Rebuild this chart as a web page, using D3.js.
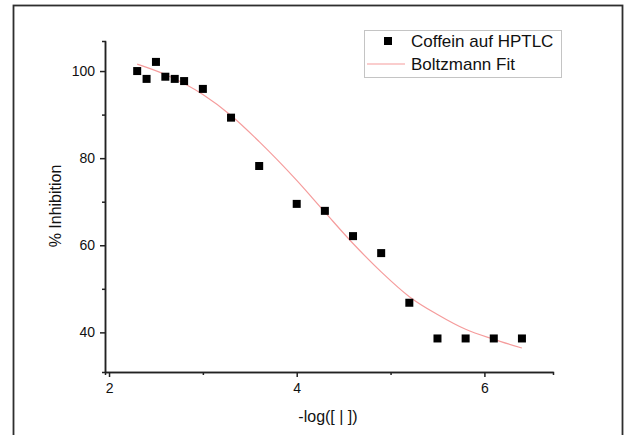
<!DOCTYPE html>
<html>
<head>
<meta charset="utf-8">
<script src="https://cdn.jsdelivr.net/npm/d3@7"></script>
<style>
    body { margin: 0; background: #fff; }
    svg { display: block; font-family: "Liberation Sans", Arial, sans-serif; }
</style>
</head>
<body>
<svg id="chart" width="627" height="435"></svg>
<script>
// measured points (Coffein auf HPTLC)
var concX = [2.3, 2.4, 2.5, 2.6, 2.7, 2.8, 3.0, 3.3, 3.6, 4.0, 4.3, 4.6, 4.9, 5.2, 5.5, 5.8, 6.1, 6.4];
var inhibition = [100.0, 98.2, 102.1, 98.7, 98.2, 97.7, 95.9, 89.3, 78.2, 69.5, 67.9, 62.1, 58.2, 46.8, 38.6, 38.6, 38.6, 38.6];

// fit curve
var fitX = [2.3, 2.6, 3.0, 3.3, 3.6, 4.0, 4.3, 4.6, 4.9, 5.2, 5.5, 5.8, 6.1, 6.4];
var fitY = [101.6, 99.2, 94.6, 89.8, 83.8, 74.9, 67.6, 60.4, 53.9, 48.2, 44.1, 40.7, 38.4, 36.4];

var xTicks = [2, 4, 6];
var xMinor = [3, 5];
var yTicks = [40, 60, 80, 100];
var yMinor = [50, 70, 90];

var legendLabels = ["Coffein auf HPTLC", "Boltzmann Fit"];

var svg = d3.select("#chart");

// outer frame (runs off the bottom of the picture)
svg.append("rect")
    .attr("x", 13.5).attr("y", 5.5)
    .attr("width", 609).attr("height", 450)
    .attr("fill", "#fff")
    .attr("stroke", "#2e2e2e")
    .attr("stroke-width", 1.8);

var x = d3.scaleLinear().domain([1.957, 6.731]).range([105, 553]);
var y = d3.scaleLinear().domain([30.9, 106.9]).range([372, 41]);

var axisColor = "#222";

function styleAxis(g) {
    g.selectAll("path, line").attr("stroke", axisColor).attr("stroke-width", 1.5);
    g.selectAll("text").attr("fill", "#111").style("font-size", "14px");
}

// minor ticks first, so the major axis draws on top
svg.append("g")
    .attr("transform", "translate(0,372)")
    .call(d3.axisBottom(x).tickValues(xMinor).tickSize(3).tickFormat(""))
    .call(styleAxis);
svg.append("g")
    .attr("transform", "translate(105,0)")
    .call(d3.axisLeft(y).tickValues(yMinor).tickSize(3).tickFormat(""))
    .call(styleAxis);

svg.append("g")
    .attr("transform", "translate(0,372)")
    .call(d3.axisBottom(x).tickValues(xTicks).tickSize(5).tickSizeOuter(0)
        .tickPadding(6).tickFormat(d3.format("d")))
    .call(styleAxis);
svg.append("g")
    .attr("transform", "translate(105,0)")
    .call(d3.axisLeft(y).tickValues(yTicks).tickSize(5).tickSizeOuter(0)
        .tickPadding(5).tickFormat(d3.format("d")))
    .call(styleAxis);

// axis titles
svg.append("text")
    .attr("x", 328).attr("y", 422)
    .attr("text-anchor", "middle")
    .style("font-size", "16px")
    .attr("fill", "#111")
    .text("-log([ | ])");

svg.append("text")
    .attr("transform", "translate(61,206) rotate(-90)")
    .attr("text-anchor", "middle")
    .style("font-size", "16px")
    .attr("fill", "#111")
    .text("% Inhibition");

// fit line
var fitLine = d3.line()
    .x(function(d) { return x(d[0]); })
    .y(function(d) { return y(d[1]); })
    .curve(d3.curveMonotoneX);

svg.append("path")
    .datum(d3.zip(fitX, fitY))
    .attr("fill", "none")
    .attr("stroke", "#f59c9c")
    .attr("stroke-width", 1.2)
    .attr("d", fitLine);

// data points
var size = 8;
svg.append("g")
    .selectAll("rect")
    .data(d3.zip(concX, inhibition))
    .enter().append("rect")
    .attr("x", function(d) { return x(d[0]) - size / 2; })
    .attr("y", function(d) { return y(d[1]) - size / 2; })
    .attr("width", size)
    .attr("height", size)
    .attr("fill", "#000");

// legend
var legend = svg.append("g").attr("transform", "translate(364,30)");
legend.append("rect")
    .attr("x", 0.5).attr("y", 0.5)
    .attr("width", 197).attr("height", 47)
    .attr("fill", "#fff")
    .attr("stroke", "#c4c4c4");
legend.append("rect")
    .attr("x", 24 - size / 2).attr("y", 11 - size / 2)
    .attr("width", size).attr("height", size)
    .attr("fill", "#000");
legend.append("line")
    .attr("x1", 3).attr("x2", 41)
    .attr("y1", 34).attr("y2", 34)
    .attr("stroke", "#f59c9c")
    .attr("stroke-width", 1.2);
legend.selectAll("text.lbl")
    .data(legendLabels)
    .enter().append("text")
    .attr("class", "lbl")
    .attr("x", 47)
    .attr("y", function(d, i) { return 11 + i * 23; })
    .attr("dy", "0.36em")
    .style("font-size", "17px")
    .attr("fill", "#111")
    .text(function(d) { return d; });
</script>
</body>
</html>
